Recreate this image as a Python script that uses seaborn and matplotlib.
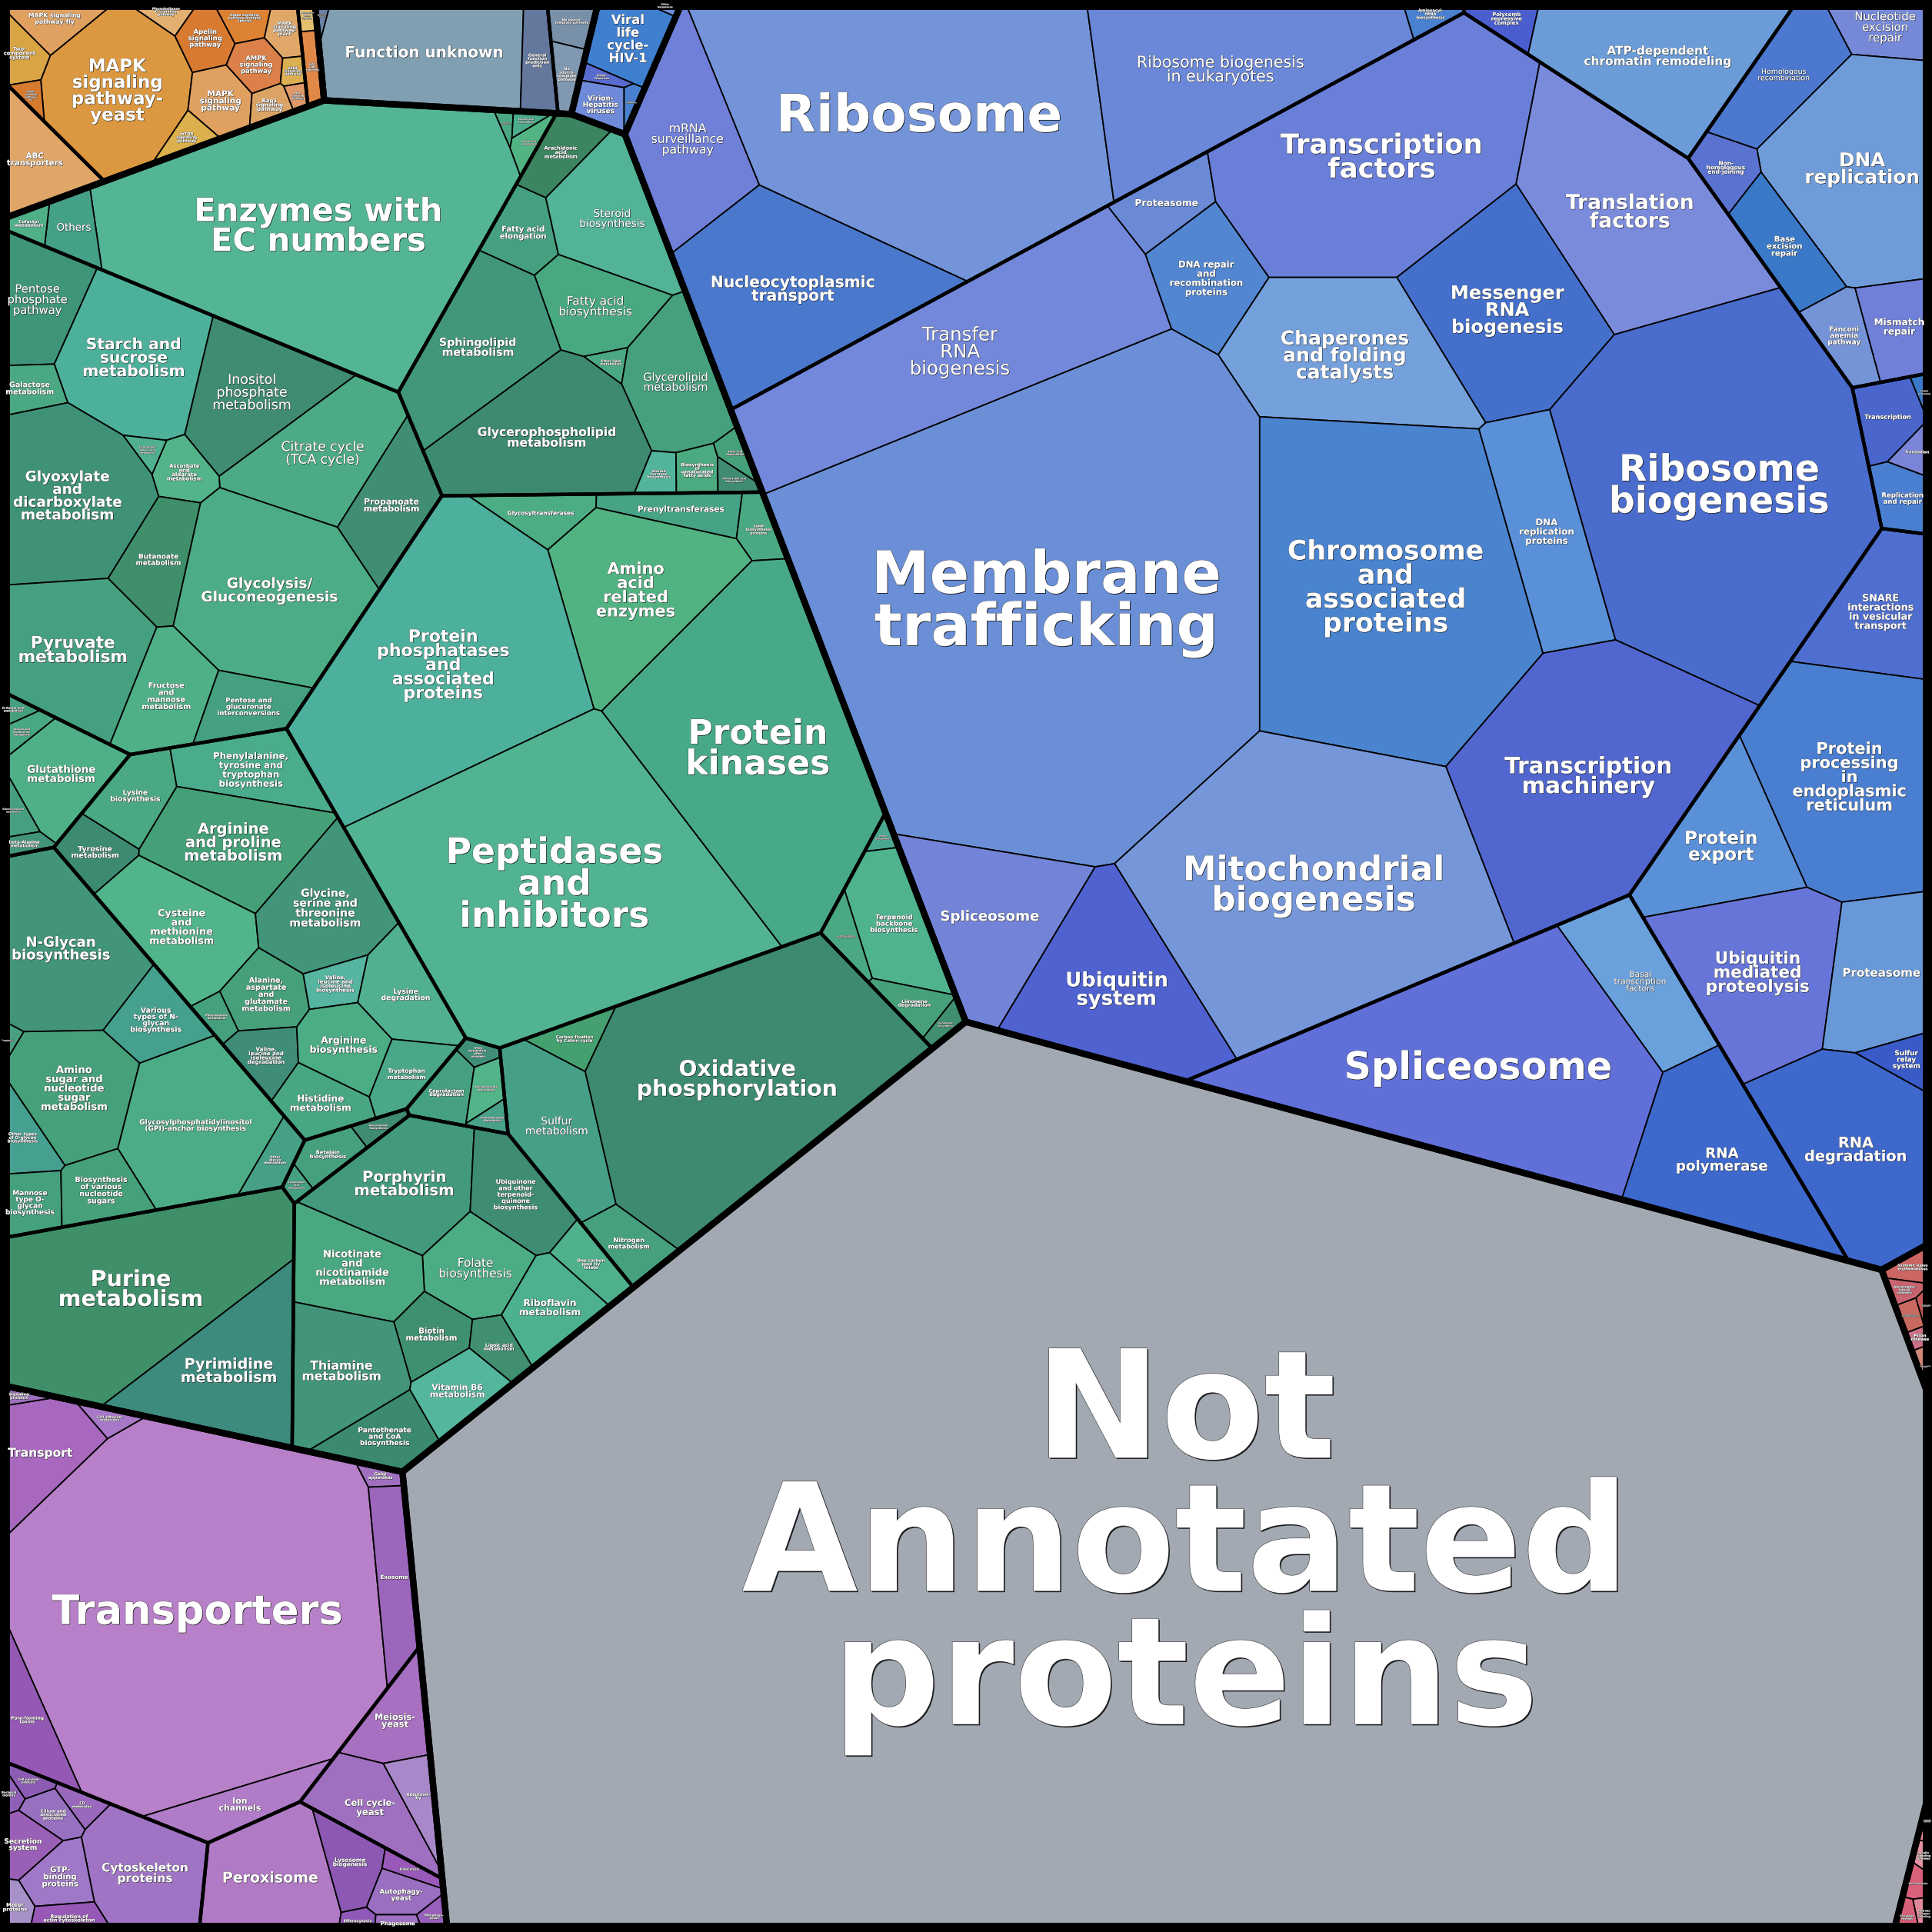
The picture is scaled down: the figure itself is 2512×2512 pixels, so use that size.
import math
import numpy as np
import matplotlib
matplotlib.use("Agg")
import matplotlib.pyplot as plt
import matplotlib.patheffects as pe
from matplotlib.textpath import TextPath
from matplotlib.font_manager import FontProperties
import seaborn as sns

sns.set_theme(style="white")
plt.rcParams["font.family"] = ["DejaVu Sans"]

SIZE = 1568.0

# ---------------------------------------------------------------- data
# values: relative protein mass; XY: layout seeds
NA_L = ["Not\nAnnotated\nproteins"]
NA_V = [7250]
NA_XY = [(850, 1300)]
NA_C = ["#a3a9b2"]

# Environmental information processing (orange)
SIG_L = ["MAPK\nsignaling\npathway-\nyeast", "MAPK signaling\npathway-fly", "Two-\ncomponent\nsystem",
         "Hippo\nsignaling\npathway-\nfly", "Phospholipase\nD signaling\npathway", "Apelin\nsignaling\npathway",
         "Hippo signaling\npathway-multiple\nspecies", "MAPK\nsignaling\npathway-\nplant", "AMPK\nsignaling\npathway",
         "MAPK\nsignaling\npathway", "VEGF\nsignaling\npathway", "Rap1\nsignaling\npathway",
         "mTOR\nsignaling\npathway", "Wnt\nsignaling\npathway"]
SIG_V = [120, 22, 16, 4.5, 9, 18, 12, 11, 14, 22, 4, 8, 9, 3]
SIG_XY = [(90, 73), (45, 18), (18, 45), (15, 82), (130, 15), (163, 38), (197, 20), (234, 28), (204, 55),
          (173, 83), (237, 58), (215, 86), (148, 112), (240, 76)]
SIG_C = ["#dc9840", "#e0a060", "#d9a444", "#d67a30", "#e2b070", "#d87a30", "#dd8232", "#e0a868", "#db8048",
         "#e0a060", "#dcb050", "#dca464", "#dcb04c", "#e09868"]
ABC_L = ["ABC\ntransporters"]
ABC_V = [48]
ABC_XY = [(45, 135)]
ABC_C = ["#dfa668"]
CAM_L = ["IgSF\nCAM\nsignaling", "Neuroactive\nligand\nsignaling"]
CAM_V = [8, 3.5]
CAM_XY = [(260, 57), (259, 18)]
CAM_C = ["#e08848", "#e2c070"]

# Function unknown
FU1_L = ["Not included\nin pathway\nor brite", "Function unknown", "General\nfunction\nprediction\nonly"]
FU1_V = [2.5, 136, 22]
FU1_XY = [(274, 18), (365, 42), (473, 42)]
FU1_C = ["#6b82a6", "#80a0b2", "#64789e"]
FU2_L = ["No source-\ntemplate pathway", "No\nsource-\ntemplate\npathway"]
FU2_V = [13, 11]
FU2_XY = [(505, 20), (498, 58)]
FU2_C = ["#7890a8", "#8098b0"]

# Viruses
VIR_L = ["Virion-\nHerpesvirus", "Viral\nlife\ncycle-\nHIV-1", "Virion-\nFlavivirus", "Virion-\nHepatitis\nviruses",
         "Virion-\nCoronavirus"]
VIR_V = [2.5, 35, 4, 13, 3.5]
VIR_XY = [(548, 15), (530, 65), (518, 115), (535, 137), (535, 175)]
VIR_C = ["#6a8cd8", "#3f7fd0", "#5a6bd0", "#6f8ad8", "#4a80d0"]

# Human diseases (red) and organismal systems (pink)
HD_L = ["Systemic lupus\nerythematosus", "Amyotrophic\nlateral\nsclerosis", "Huntington\ndisease",
        "Pathways of\nneurodegeneration", "Prion\ndisease", "Spinocerebellar\nataxia"]
HD_V = [8, 4.5, 3, 4, 3, 4]
HD_XY = [(1545, 1045), (1540, 1067), (1556, 1080), (1543, 1087), (1551, 1107), (1554, 1135)]
HD_C = ["#cc6663", "#c86470", "#c85a5a", "#c86a60", "#cc7088", "#d08878"]
OS_L = ["Longevity\nregulating\npathway", "Insulin\nsignaling\npathway", "Thermogenesis",
        "NOD-like\nreceptor\nsignaling", "Circadian\nrhythm"]
OS_V = [3, 3.3, 5, 3.5, 4]
OS_XY = [(1555, 1483), (1555, 1515), (1542, 1520), (1553, 1548), (1537, 1553)]
OS_C = ["#e08898", "#e590a0", "#d86078", "#e08898", "#d86078"]

# Cellular processes (purple)
P1_L = ["Transporters", "Transport", "Signaling\nproteins", "Cell adhesion\nmolecules", "Pore-forming\ntoxins",
        "Exosome", "Golgi\napparatus", "Ion\nchannels"]
P1_V = [756, 58, 4, 7, 40, 42, 5, 37]
P1_XY = [(160, 1310), (35, 1180), (20, 1118), (62, 1135), (25, 1370), (318, 1295), (315, 1230), (210, 1475)]
P1_C = ["#b880c8", "#a868be", "#a070c0", "#a878c8", "#9558b4", "#9b66bc", "#a070c0", "#b07cc8"]
P2_L = ["Meiosis-\nyeast", "Cell cycle-\nyeast", "Apoptosis-\nfly"]
P2_V = [35, 48, 18]
P2_XY = [(318, 1365), (295, 1465), (332, 1445)]
P2_C = ["#a870c0", "#a070c0", "#a888c8"]
P3_L = ["Cytoskeleton\nproteins", "Secretion\nsystem", "GTP-\nbinding\nproteins", "Motor\nproteins",
        "Regulation of\nactin cytoskeleton", "Cilium and\nassociated\nproteins", "CD\nmolecules",
        "Cell junction\nproteins", "Bacterial\nmotility"]
P3_V = [80, 18, 22, 10, 13, 12, 7, 6, 5]
P3_XY = [(115, 1515), (25, 1500), (50, 1528), (18, 1548), (52, 1555), (40, 1478), (62, 1462), (30, 1450),
         (12, 1462)]
P3_C = ["#a074c4", "#9a5fb6", "#a078c8", "#a890c8", "#9858b8", "#9870c0", "#9a68bc", "#8c5cb4", "#9060b8"]
P4_L = ["Peroxisome", "Lysosome\nbiogenesis", "Autophagy-\nyeast", "Endocytosis", "Efferocytosis",
        "Phagosome", "Mitophagy-\nyeast"]
P4_V = [91, 26, 15, 6, 5, 5, 5]
P4_XY = [(210, 1535), (300, 1510), (330, 1522), (345, 1503), (308, 1550), (330, 1552), (348, 1545)]
P4_C = ["#b07ac4", "#8c58b4", "#9a6ec0", "#9a58b8", "#9058b8", "#a070c4", "#9860bc"]

# Metabolism (green)
MA_L = ["Enzymes with\nEC numbers", "Others", "Cofactor\nmetabolism", "Energy\nmetabolism",
        "Amino acid\nmetabolism", "Mycolic acid\nbiosynthesis"]
MA_V = [519, 20, 8, 2.5, 7, 3.5]
MA_XY = [(265, 165), (60, 195), (22, 192), (433, 90), (455, 100), (485, 92)]
MA_C = ["#54b496", "#45a088", "#4fb088", "#4aa882", "#52b482", "#4aac8a"]
MB_L = ["Pentose\nphosphate\npathway", "Galactose\nmetabolism", "Starch and\nsucrose\nmetabolism",
        "Inositol\nphosphate\nmetabolism", "Citrate cycle\n(TCA cycle)", "Propanoate\nmetabolism",
        "Glyoxylate\nand\ndicarboxylate\nmetabolism", "Ascorbate\nand\naldarate\nmetabolism",
        "C5-Branched\ndibasic acid\nmetabolism", "Butanoate\nmetabolism", "Glycolysis/\nGluconeogenesis",
        "Pyruvate\nmetabolism", "Fructose\nand\nmannose\nmetabolism", "Pentose and\nglucuronate\ninterconversions"]
MB_V = [60, 18, 120, 90, 96, 56, 147, 20, 5, 45, 180, 121, 55, 35]
MB_XY = [(38, 255), (40, 322), (123, 293), (223, 317), (263, 371), (325, 410), (57, 405), (150, 377),
         (115, 362), (138, 455), (228, 475), (65, 528), (145, 560), (208, 582)]
MB_C = ["#3f9579", "#4aa882", "#4db09a", "#3f8c72", "#4caa85", "#3f8e74", "#3f9277", "#52b488", "#50b090",
        "#3f8f6a", "#4cac86", "#45a080", "#4fb088", "#45a080"]
MC_L = ["Arachidonic\nacid\nmetabolism", "Fatty acid\nelongation", "Steroid\nbiosynthesis",
        "Fatty acid\nbiosynthesis", "Sphingolipid\nmetabolism", "Ether lipid\nmetabolism",
        "Glycerolipid\nmetabolism", "Glycerophospholipid\nmetabolism", "Steroid\nhormone\nbiosynthesis",
        "Biosynthesis\nof\nunsaturated\nfatty acids", "Fatty acid\ndegradation", "Primary bile acid\nbiosynthesis"]
MC_V = [25, 28, 81, 55, 109, 5, 75, 145, 9, 12, 7, 6]
MC_XY = [(455, 136), (428, 196), (500, 180), (475, 250), (390, 280), (485, 300), (545, 310), (445, 355),
         (543, 400), (572, 395), (598, 383), (600, 415)]
MC_C = ["#3b8560", "#45a07f", "#52b396", "#48a880", "#41967c", "#4aa882", "#46a07e", "#3d8a70", "#52b49a",
        "#4caa80", "#46a07a", "#3f8c72"]
MD_L = ["Glycosyltransferases", "Prenyltransferases", "Lipid\nbiosynthesis\nproteins",
        "Amino\nacid\nrelated\nenzymes", "Protein\nphosphatases\nand\nassociated\nproteins",
        "Peptidases\nand\ninhibitors", "Protein\nkinases"]
MD_V = [25, 28, 15, 146, 374, 540, 386]
MD_XY = [(435, 425), (522, 428), (600, 438), (505, 505), (350, 550), (440, 740), (610, 610)]
MD_C = ["#4cac84", "#46a385", "#4aa882", "#52b382", "#4db09c", "#52b390", "#48a88a"]
ME_L = ["Glutathione\nmetabolism", "D-Amino acid\nmetabolism", "Taurine and\nhypotaurine\nmetabolism",
        "Selenocompound\nmetabolism", "beta-Alanine\nmetabolism"]
ME_V = [55, 5, 8, 10, 6]
ME_XY = [(62, 635), (18, 560), (22, 585), (18, 660), (22, 693)]
ME_C = ["#4fb088", "#45a07e", "#48a882", "#46a080", "#42957a"]
MF_L = ["Lysine\nbiosynthesis", "Phenylalanine,\ntyrosine and\ntryptophan\nbiosynthesis", "Tyrosine\nmetabolism",
        "Arginine\nand proline\nmetabolism", "Cysteine\nand\nmethionine\nmetabolism",
        "Glycine,\nserine and\nthreonine\nmetabolism", "Alanine,\naspartate\nand\nglutamate\nmetabolism",
        "Valine,\nleucine and\nisoleucine\nbiosynthesis", "Lysine\ndegradation", "Phenylalanine\nmetabolism",
        "Valine,\nleucine and\nisoleucine\ndegradation", "Arginine\nbiosynthesis", "Histidine\nmetabolism",
        "Tryptophan\nmetabolism"]
MF_V = [35, 54, 23, 94, 86, 83, 33, 15, 47, 8, 22, 39, 30, 25]
MF_XY = [(110, 655), (195, 640), (85, 695), (185, 700), (150, 770), (255, 760), (215, 828), (272, 818),
         (328, 830), (185, 850), (223, 888), (280, 875), (268, 925), (330, 905)]
MF_C = ["#4aa882", "#4aac8a", "#3d8a72", "#45a078", "#52b48a", "#42957a", "#46a07a", "#55b5a0", "#50b090",
        "#45a07e", "#3f8c78", "#4cac84", "#48a782", "#4aa888"]
MG_L = ["N-Glycan\nbiosynthesis", "Various\ntypes of N-\nglycan\nbiosynthesis",
        "Amino\nsugar and\nnucleotide\nsugar\nmetabolism", "Glycosylphosphatidylinositol\n(GPI)-anchor biosynthesis",
        "Other\nglycan\ndegradation", "Other types\nof O-glycan\nbiosynthesis", "Mannose\ntype O-\nglycan\nbiosynthesis",
        "Biosynthesis\nof various\nnucleotide\nsugars", "Glycosaminoglycan\ndegradation"]
MG_V = [131, 36, 83, 125, 15, 23, 24, 32, 4]
MG_XY = [(60, 775), (125, 825), (62, 895), (160, 920), (220, 955), (25, 920), (28, 968), (85, 967), (12, 865)]
MG_C = ["#42957a", "#45a08e", "#46a07a", "#4cac86", "#46a086", "#46a090", "#45a07e", "#46a07a", "#48a080"]
MH_L = ["Drug\nmetabolism -\nother\nenzymes", "Caprolactam\ndegradation", "Aminobenzoate\ndegradation",
        "Fluorobenzoate\ndegradation"]
MH_V = [5, 19, 10, 5]
MH_XY = [(393, 884), (367, 912), (405, 915), (405, 938)]
MH_C = ["#3f8f78", "#45a080", "#52b488", "#48a088"]
MI_L = ["Oxidative\nphosphorylation", "Sulfur\nmetabolism", "Carbon fixation\nby Calvin cycle",
        "Nitrogen\nmetabolism"]
MI_V = [404, 81, 16, 25]
MI_XY = [(597, 885), (455, 918), (497, 838), (505, 1012)]
MI_C = ["#3d8a70", "#46a088", "#45a070", "#46a07e"]
MJ_L = ["Zeatin\nbiosynthesis", "Terpenoid\nbackbone\nbiosynthesis", "Other carbon\nfixation pathways",
        "Limonene\ndegradation", "Carotenoid\nbiosynthesis"]
MJ_V = [4, 60, 12, 15, 6]
MJ_XY = [(705, 665), (722, 740), (656, 750), (705, 805), (760, 838)]
MJ_C = ["#4aa890", "#4fb38e", "#4aa882", "#46a07a", "#3f8f70"]
MK_L = ["Porphyrin\nmetabolism", "Ubiquinone\nand other\nterpenoid-\nquinone\nbiosynthesis",
        "One carbon\npool by\nfolate", "Folate\nbiosynthesis", "Riboflavin\nmetabolism",
        "Nicotinate\nand\nnicotinamide\nmetabolism", "Biotin\nmetabolism", "Lipoic acid\nmetabolism",
        "Thiamine\nmetabolism", "Vitamin B6\nmetabolism", "Pantothenate\nand CoA\nbiosynthesis"]
MK_V = [96, 52, 20, 50, 42, 69, 28, 16, 81, 32, 35]
MK_XY = [(330, 985), (430, 990), (490, 1040), (390, 1050), (450, 1085), (300, 1055), (355, 1110),
         (400, 1115), (285, 1130), (375, 1150), (315, 1180)]
MK_C = ["#43997c", "#3f8c74", "#4fb08c", "#4cac84", "#4db090", "#4aa880", "#3f9070", "#3f8f70", "#42957a",
        "#55b69e", "#3b8a6e"]
ML_L = ["Purine\nmetabolism", "Pyrimidine\nmetabolism"]
ML_V = [270, 117]
ML_XY = [(110, 1040), (175, 1125)]
ML_C = ["#3f8f68", "#3d8a7e"]
MM_L = ["Glucosinolate\nbiosynthesis", "Betalain\nbiosynthesis", "Cyanoamino\nacid\nmetabolism"]
MM_V = [6, 16, 4]
MM_XY = [(290, 938), (275, 965), (243, 975)]
MM_C = ["#3f8c72", "#46a07e", "#45a080"]

# Genetic information processing (blue)
B1_L = ["Ribosome", "Ribosome biogenesis\nin eukaryotes", "mRNA\nsurveillance\npathway",
        "Nucleocytoplasmic\ntransport", "Aminoacyl-\ntRNA\nbiosynthesis"]
B1_V = [569, 251, 113, 218, 10]
B1_XY = [(735, 100), (990, 65), (582, 162), (660, 262), (1150, 17)]
B1_C = ["#7394d9", "#6b88d8", "#7080d8", "#4a78cc", "#4a80d0"]
B2_L = ["Polycomb\nrepressive\ncomplex", "ATP-dependent\nchromatin remodeling"]
B2_V = [16, 164]
B2_XY = [(1232, 25), (1345, 50)]
B2_C = ["#4a5ed0", "#6b9cd8"]
B3_L = ["Nucleotide\nexcision\nrepair", "Homologous\nrecombination", "DNA\nreplication",
        "Non-\nhomologous\nend-joining", "Base\nexcision\nrepair", "Fanconi\nanemia\npathway", "Mismatch\nrepair"]
B3_V = [35, 64, 195, 22, 45, 28, 40]
B3_XY = [(1525, 30), (1440, 75), (1515, 150), (1395, 175), (1448, 200), (1495, 288), (1532, 278)]
B3_C = ["#7689d8", "#4c78cf", "#6f9cd8", "#5a72d0", "#3a78c8", "#7594d8", "#7080d8"]
B4_L = ["Membrane\ntrafficking", "Transfer\nRNA\nbiogenesis", "Proteasome",
        "DNA repair\nand\nrecombination\nproteins", "Transcription\nfactors", "Translation\nfactors",
        "Messenger\nRNA\nbiogenesis", "Chaperones\nand folding\ncatalysts", "Chromosome\nand\nassociated\nproteins",
        "DNA\nreplication\nproteins", "Ribosome\nbiogenesis", "Transcription\nmachinery",
        "Mitochondrial\nbiogenesis", "Spliceosome", "Ubiquitin\nsystem"]
B4_V = [1230, 326, 35, 70, 363, 241, 186, 187, 523, 113, 603, 360, 528, 134, 171]
B4_XY = [(850, 490), (775, 305), (950, 168), (995, 228), (1120, 140), (1325, 180), (1210, 255),
         (1120, 310), (1110, 490), (1250, 450), (1390, 410), (1285, 640), (1065, 725), (805, 765), (905, 825)]
B4_C = ["#6a8fd6", "#7388da", "#6a8ad6", "#5286d0", "#6a7fd8", "#7b8bdc", "#4470cc", "#74a0dc", "#4a84cf",
        "#5a90d8", "#4a6ccc", "#5266cf", "#7597da", "#7384d8", "#4f62cf"]
B5_L = ["Transcription", "Protein\nprocessing", "Translation", "Replication\nand repair"]
B5_V = [28, 4, 9, 23]
B5_XY = [(1520, 338), (1552, 325), (1548, 365), (1535, 400)]
B5_C = ["#4a66cc", "#3a7ac8", "#7a85d8", "#4a7ed0"]
B6_L = ["SNARE\ninteractions\nin vesicular\ntransport", "Protein\nprocessing\nin\nendoplasmic\nreticulum",
        "Protein\nexport", "Ubiquitin\nmediated\nproteolysis", "Proteasome", "Sulfur\nrelay\nsystem",
        "RNA\ndegradation"]
B6_V = [90, 234, 102, 159, 95, 16, 176]
B6_XY = [(1520, 490), (1500, 640), (1410, 680), (1432, 800), (1522, 812), (1545, 893), (1505, 965)]
B6_C = ["#4f6fd0", "#4a7ed0", "#5a90d8", "#6775d8", "#6898d8", "#3a5ac8", "#3f68cc"]
B7_L = ["Spliceosome", "Basal\ntranscription\nfactors", "RNA\npolymerase"]
B7_V = [425, 80, 152]
B7_XY = [(1185, 885), (1310, 795), (1385, 950)]
B7_C = ["#6070d8", "#6aa0dc", "#3d68cc"]

NORMAL_WEIGHT = {"Ribosome biogenesis\nin eukaryotes", "mRNA\nsurveillance\npathway",
                 "Transfer\nRNA\nbiogenesis", "Citrate cycle\n(TCA cycle)", "Inositol\nphosphate\nmetabolism",
                 "Pentose\nphosphate\npathway", "Glycerolipid\nmetabolism", "Steroid\nbiosynthesis",
                 "Fatty acid\nbiosynthesis", "Others", "Sulfur\nmetabolism", "Folate\nbiosynthesis",
                 "Basal\ntranscription\nfactors", "Homologous\nrecombination", "Nucleotide\nexcision\nrepair"}

# layout hints for sites of grouped cells (None = value-weighted mean of the children)
TOP_XY = [None, None, (1110, 340), None, None, (330, 40), None, None, None]
GROUP_XY = {2: [(850, 60), None, None, None, None, None, None]}

# ---------------------------------------------------------------- tree
def grp(L, V, XY, C):
    return [dict(label=l, value=float(v), seed=(float(p[0]), float(p[1])), color=c)
            for l, v, p, c in zip(L, V, XY, C)]


def internal(children, seed=None):
    v = sum(c["value"] for c in children)
    sx = sum(c["value"] * c["seed"][0] for c in children) / v
    sy = sum(c["value"] * c["seed"][1] for c in children) / v
    return dict(value=v, seed=seed if seed is not None else (sx, sy), children=children)


TOP = [
    [grp(NA_L, NA_V, NA_XY, NA_C)],
    [grp(MA_L, MA_V, MA_XY, MA_C), grp(MB_L, MB_V, MB_XY, MB_C), grp(MC_L, MC_V, MC_XY, MC_C),
     grp(MD_L, MD_V, MD_XY, MD_C), grp(ME_L, ME_V, ME_XY, ME_C), grp(MF_L, MF_V, MF_XY, MF_C),
     grp(MG_L, MG_V, MG_XY, MG_C), grp(MH_L, MH_V, MH_XY, MH_C), grp(MI_L, MI_V, MI_XY, MI_C),
     grp(MJ_L, MJ_V, MJ_XY, MJ_C), grp(MK_L, MK_V, MK_XY, MK_C), grp(ML_L, ML_V, ML_XY, ML_C),
     grp(MM_L, MM_V, MM_XY, MM_C)],
    [grp(B1_L, B1_V, B1_XY, B1_C), grp(B2_L, B2_V, B2_XY, B2_C), grp(B3_L, B3_V, B3_XY, B3_C),
     grp(B4_L, B4_V, B4_XY, B4_C), grp(B5_L, B5_V, B5_XY, B5_C), grp(B6_L, B6_V, B6_XY, B6_C),
     grp(B7_L, B7_V, B7_XY, B7_C)],
    [grp(P1_L, P1_V, P1_XY, P1_C), grp(P2_L, P2_V, P2_XY, P2_C), grp(P3_L, P3_V, P3_XY, P3_C),
     grp(P4_L, P4_V, P4_XY, P4_C)],
    [grp(SIG_L, SIG_V, SIG_XY, SIG_C), grp(ABC_L, ABC_V, ABC_XY, ABC_C), grp(CAM_L, CAM_V, CAM_XY, CAM_C)],
    [grp(FU1_L, FU1_V, FU1_XY, FU1_C), grp(FU2_L, FU2_V, FU2_XY, FU2_C)],
    [grp(VIR_L, VIR_V, VIR_XY, VIR_C)],
    [grp(HD_L, HD_V, HD_XY, HD_C)],
    [grp(OS_L, OS_V, OS_XY, OS_C)],
]
ROOT = internal([
    internal([internal(g, seed=GROUP_XY.get(t, [None] * len(top))[k]) for k, g in enumerate(top)],
             seed=TOP_XY[t])
    for t, top in enumerate(TOP)])

# ---------------------------------------------------------------- geometry
def parea(P):
    s = 0.0
    n = len(P)
    for k in range(n):
        x0, y0 = P[k][0], P[k][1]
        x1, y1 = P[(k + 1) % n][0], P[(k + 1) % n][1]
        s += x0 * y1 - x1 * y0
    return 0.5 * s


def pcentroid(P):
    a = cx = cy = 0.0
    n = len(P)
    for k in range(n):
        x0, y0 = P[k][0], P[k][1]
        x1, y1 = P[(k + 1) % n][0], P[(k + 1) % n][1]
        cr = x0 * y1 - x1 * y0
        a += cr
        cx += (x0 + x1) * cr
        cy += (y0 + y1) * cr
    a *= 0.5
    if abs(a) < 1e-12:
        return (sum(p[0] for p in P) / n, sum(p[1] for p in P) / n)
    return (cx / (6 * a), cy / (6 * a))


def clip(poly, a, b, c, lab):
    out = []
    n = len(poly)
    for k in range(n):
        px, py, pl = poly[k]
        qx, qy, _ = poly[(k + 1) % n]
        fp = a * px + b * py - c
        fq = a * qx + b * qy - c
        if fp <= 0:
            out.append(poly[k])
            if fq > 0:
                t = fp / (fp - fq)
                out.append((px + t * (qx - px), py + t * (qy - py), lab))
        elif fq <= 0:
            t = fp / (fp - fq)
            out.append((px + t * (qx - px), py + t * (qy - py), pl))
    return out


def power_cells(region, S, W):
    n = len(S)
    cells = []
    for i in range(n):
        poly = region
        xi, yi = S[i]
        ki = xi * xi + yi * yi - W[i]
        for j in range(n):
            if j == i:
                continue
            xj, yj = S[j]
            poly = clip(poly, 2 * (xj - xi), 2 * (yj - yi), (xj * xj + yj * yj - W[j]) - ki, j)
            if len(poly) < 3:
                poly = []
                break
        cells.append(poly)
    return cells


def areas_of(cells):
    return np.array([abs(parea(c)) if len(c) >= 3 else 0.0 for c in cells])


def solve(region, S, T, iters=80):
    n = len(S)
    W = np.zeros(n)
    cells = power_cells(region, S, W)
    A = areas_of(cells)
    for _ in range(iters):
        err = np.abs(A - T).sum()
        if np.max(np.abs(A - T) / T) < 2e-3:
            break
        H = np.zeros((n, n))
        for i, cell in enumerate(cells):
            m = len(cell)
            for k in range(m):
                x0, y0, l = cell[k]
                x1, y1, _ = cell[(k + 1) % m]
                if l >= 0:
                    L = math.hypot(x1 - x0, y1 - y0)
                    d = math.hypot(S[l][0] - S[i][0], S[l][1] - S[i][1])
                    cc = L / (2 * d)
                    H[i, i] += cc
                    H[i, l] -= cc
        H = 0.5 * (H + H.T)
        delta = np.linalg.lstsq(H, T - A, rcond=None)[0]
        tau = 1.0
        ok = False
        while tau > 1e-5:
            W2 = W + tau * delta
            c2 = power_cells(region, S, W2)
            A2 = areas_of(c2)
            if A2.min() > 1e-9 * T.sum() and np.abs(A2 - T).sum() < (1 - 0.5 * tau) * err:
                ok = True
                break
            tau *= 0.5
        if not ok:
            break
        W, cells, A = W2, c2, A2
    return cells


def inside_margin(P, x, y):
    sg = 1.0 if parea(P) > 0 else -1.0
    n = len(P)
    dmin = 1e18
    for k in range(n):
        x0, y0 = P[k][0], P[k][1]
        x1, y1 = P[(k + 1) % n][0], P[(k + 1) % n][1]
        L = math.hypot(x1 - x0, y1 - y0)
        if L < 1e-12:
            continue
        cr = sg * ((x1 - x0) * (y - y0) - (y1 - y0) * (x - x0)) / L
        dmin = min(dmin, cr)
    return dmin


def pull_inside(P, s):
    cx, cy = pcentroid(P)
    m = 0.03 * math.sqrt(abs(parea(P)))
    x, y = s
    if inside_margin(P, x, y) >= m:
        return (x, y)
    best, bq = 1e18, (cx, cy)
    n = len(P)
    for k in range(n):
        x0, y0 = P[k][0], P[k][1]
        x1, y1 = P[(k + 1) % n][0], P[(k + 1) % n][1]
        dx, dy = x1 - x0, y1 - y0
        L2 = dx * dx + dy * dy
        t = 0.0 if L2 < 1e-12 else max(0.0, min(1.0, ((x - x0) * dx + (y - y0) * dy) / L2))
        qx, qy = x0 + t * dx, y0 + t * dy
        dd = math.hypot(qx - x, qy - y)
        if dd < best:
            best, bq = dd, (qx, qy)
    qx, qy = bq
    t = 0.0
    while t < 1.0:
        px, py = qx + (cx - qx) * t, qy + (cy - qy) * t
        if inside_margin(P, px, py) >= m:
            return (px, py)
        t += 0.02
    return (cx, cy)


def place(node, region, depth, out):
    node["poly"] = region
    node["depth"] = depth
    out.append(node)
    ch = node.get("children")
    if not ch:
        return
    if len(ch) == 1:
        place(ch[0], region, depth + 1, out)
        return
    S = [pull_inside(region, c["seed"]) for c in ch]
    for i in range(len(S)):
        for j in range(i):
            if math.hypot(S[i][0] - S[j][0], S[i][1] - S[j][1]) < 0.5:
                S[i] = (S[i][0] + 0.7 * (i % 3 - 1) + 0.5, S[i][1] + 0.7 * (j % 3 - 1) + 0.5)
    T = np.array([c["value"] for c in ch])
    T = T / T.sum() * abs(parea(region))
    cells = solve(region, S, T)
    for c, cell in zip(ch, cells):
        if len(cell) < 3:
            continue
        place(c, [(p[0], p[1], -1) for p in cell], depth + 1, out)


REGION = [(0.0, 0.0, -1), (SIZE, 0.0, -1), (SIZE, SIZE, -1), (0.0, SIZE, -1)]
NODES = []
place(ROOT, REGION, 0, NODES)

# ---------------------------------------------------------------- drawing
fig = plt.figure(figsize=(25.12, 25.12), dpi=100)
ax = fig.add_axes([0, 0, 1, 1])
ax.set_xlim(0, SIZE)
ax.set_ylim(SIZE, 0)
ax.axis("off")

PT = (2512.0 / SIZE) * 72.0 / 100.0
LW = {1: 6.0, 2: 3.2, 3: 1.3}

for nd in NODES:
    P = nd["poly"]
    xs = [p[0] for p in P]
    ys = [p[1] for p in P]
    d = nd["depth"]
    if not nd.get("children"):
        ax.fill(xs, ys, facecolor=nd["color"], edgecolor="black", linewidth=LW[3], zorder=1)
    elif d in (1, 2):
        ax.fill(xs, ys, facecolor="none", edgecolor="black", linewidth=LW[d], zorder=2 + (2 - d),
                joinstyle="round")

ax.add_patch(plt.Rectangle((0, 0), SIZE, SIZE, fill=False, edgecolor="black", linewidth=18, zorder=6,
                           clip_on=True))

_cache = {}


def measure(line, weight):
    key = (line, weight)
    if key not in _cache:
        tp = TextPath((0, 0), line, size=1, prop=FontProperties(family="DejaVu Sans", weight=weight))
        _cache[key] = tp.get_extents().width
    return _cache[key]


def fits(P, cx, cy, hw, hh):
    for (x, y) in ((cx - hw, cy - hh), (cx + hw, cy - hh), (cx + hw, cy + hh), (cx - hw, cy + hh)):
        if inside_margin(P, x, y) < 0:
            return False
    return True


FIT = 0.8
for nd in NODES:
    if nd.get("children"):
        continue
    P = nd["poly"]
    lab = nd["label"]
    weight = "normal" if lab in NORMAL_WEIGHT else "bold"
    lines = lab.split("\n")
    Wem = max(measure(l, weight) for l in lines)
    Hem = 1.0 + (len(lines) - 1) * 0.92
    cx, cy = pcentroid(P)
    lo, hi = 0.0, 1500.0
    for _ in range(32):
        mid = 0.5 * (lo + hi)
        if fits(P, cx, cy, 0.5 * mid * Wem, 0.5 * mid * Hem):
            lo = mid
        else:
            hi = mid
    fs = lo * FIT * PT
    if fs < 0.5:
        continue
    off = 0.35 + 0.006 * fs
    ax.text(cx, cy, lab, ha="center", va="center", fontsize=fs, fontweight=weight, color="white",
            linespacing=0.9, zorder=10,
            path_effects=[pe.SimplePatchShadow(offset=(off, -off), shadow_rgbFace="#111111", alpha=0.95),
                          pe.Stroke(linewidth=0.25 + 0.004 * fs, foreground="#333333"),
                          pe.Normal()])

fig.savefig("out.png", dpi=100, facecolor="black")
